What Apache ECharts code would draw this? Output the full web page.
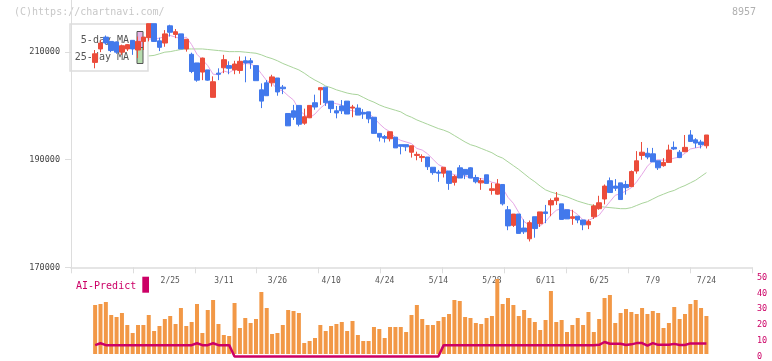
<!DOCTYPE html>
<html>
<head>
<meta charset="utf-8">
<script src="https://cdn.jsdelivr.net/npm/echarts@6.0.0/dist/echarts.min.js"></script>
<style>
  html, body { margin: 0; padding: 0; background: #fff; }
  #main { width: 772px; height: 361px; }
</style>
</head>
<body>
<div id="main"></div>
<script>
// 日足データ (8957)
const openP = [208100,210600,212800,212000,211900,210000,210600,212200,210400,212000,
  212700,215300,212100,211700,214900,213300,213400,210600,209600,208000,
  206300,206700,201600,206100,207100,207500,206700,206600,208400,208400,
  207500,203000,204300,204300,205200,203500,198600,199100,200100,196800,
  197800,200600,203000,203500,200900,199100,200000,200900,199600,199600,
  198800,198900,197900,194900,194300,193900,194200,192800,192800,191400,
  190800,190400,190500,188600,187700,187500,187900,185800,188500,188200,
  188500,186700,185700,187200,184300,183600,185400,180700,177800,179900,
  177300,175300,179400,178100,180300,181600,182400,181800,180700,179100,
  179500,178800,177900,179400,180900,182700,186100,185100,185700,185400,
  185000,187900,190800,191200,191100,189800,188900,189500,192300,191400,
  191500,194600,193700,193300,192600];
const closeP = [209700,211700,211700,210300,210000,211200,211400,210600,212000,212800,
  215300,212000,210900,213400,213700,213800,210600,212400,206400,204800,
  208900,204800,204500,205900,208600,207000,207800,208300,208000,208000,
  204700,200900,201900,205400,202600,203200,196300,197900,196600,198000,
  200100,199800,203400,200600,199500,198700,199100,198500,199800,198300,
  198500,197600,194900,194200,194000,195200,192200,192500,192400,192600,
  191000,190600,188700,187600,187500,188600,185600,186900,186600,187200,
  186600,185900,186100,185600,184600,185500,181800,177700,179900,176300,
  176600,178300,177200,180300,180000,182400,182900,178900,179000,179400,
  178800,177900,178500,181400,182000,185100,183900,184700,182600,184800,
  187800,189800,191400,190500,189600,188500,189500,191800,192000,190400,
  192300,193400,193100,192800,194600];
const lowP = [207000,210000,211400,210000,209700,209500,210200,209500,208900,210400,
  212000,211900,210200,211000,212900,212600,210600,210100,206100,204500,
  204800,204700,201600,204800,206100,205900,205900,206000,204400,206900,
  204700,199600,201900,203600,201900,202200,196300,197400,196200,196500,
  197800,199300,200200,200000,198700,197700,198500,198500,197900,198300,
  197600,196800,194900,193400,193200,193400,192200,191000,191600,190400,
  189900,189600,188100,187200,185900,186700,184400,185200,186600,186400,
  186600,185600,184400,185600,183500,183500,181500,176900,177500,176300,
  176200,174800,175500,177500,178200,179500,181600,178900,179000,177900,
  178200,176900,177100,179000,180700,181700,183900,184200,182600,183500,
  185000,187400,190000,190100,189600,188100,188700,189500,191800,190300,
  191400,193400,192200,192100,192100];
const highP = [210400,212300,213100,212000,212000,211400,211500,212200,212900,212800,
  215300,215300,212700,214100,215100,214300,213400,212400,209900,208000,
  209000,206700,205500,207000,209500,208300,208400,209200,209200,208900,
  207500,204200,204800,205800,205200,203900,198600,200200,200100,199500,
  200100,202100,203400,203500,200900,200000,201100,200900,200200,200300,
  199400,198900,197900,194900,194600,195200,194200,192800,192800,192600,
  191500,191000,190500,188600,188100,188600,187900,187200,189000,188200,
  188600,187200,186600,187200,185700,186400,185400,181400,179900,179900,
  178900,178700,179400,180300,181600,182800,184000,181800,180700,180700,
  179500,178800,178900,181700,183300,185400,186700,186400,185700,186100,
  188000,191600,193300,192200,192200,189800,190300,192800,193400,191800,
  194600,195500,194000,193700,194600];

// 移動平均線
const ma5 = [null,null,null,null,null,null,null,null,null,null,
  212400,212500,212600,212900,213100,212800,212500,212800,211400,209600,
  208600,207500,205900,205800,206500,206200,206800,207500,207900,207800,
  207300,206000,204700,204200,203100,202800,201900,201100,199300,198400,
  197800,198500,199600,200400,200700,200400,200200,199300,199100,198900,
  198800,198600,197800,196700,195800,195200,194100,193600,193300,193000,
  192100,191800,191100,190100,189100,188600,187600,187200,187000,187000,
  186600,186600,186500,186300,185800,185600,184700,183000,181900,180200,
  178500,177800,177700,177700,178500,179700,180600,180900,180700,180500,
  179800,178800,178700,179200,179700,181000,182200,183400,183700,184200,
  184800,185900,187300,188800,189800,190000,189900,190000,190300,190500,
  191200,192000,192200,192400,193200];
const ma25 = [null,null,null,null,null,null,null,null,null,null,
  209300,209400,209700,210000,210100,210300,210500,210600,210600,210600,
  210600,210500,210400,210300,210200,210100,210100,210100,210000,209900,
  209800,209500,209100,208800,208400,207900,207500,207100,206700,206100,
  205400,204800,204300,203700,203400,203000,202700,202400,202200,202100,
  201600,201100,200700,200200,199800,199500,199200,198900,198300,197900,
  197400,197000,196600,196200,195800,195500,195100,194500,193900,193300,
  192800,192500,192100,191700,191300,190700,190300,189600,188900,188200,
  187400,186600,185900,185100,184400,184000,183700,183400,183100,182700,
  182300,182000,181700,181500,181300,181200,181100,181000,180900,180900,
  181100,181500,181900,182200,182700,183200,183600,184000,184300,184800,
  185200,185700,186200,186900,187600];

// 出来高 (相対値)
const volume = [49,50,52,39,37,41,29,21,29,29,
  39,23,28,35,38,30,46,28,32,50,
  21,44,54,30,19,18,51,26,36,31,
  35,62,46,20,21,29,44,43,41,11,
  13,16,29,23,28,30,32,23,33,19,
  13,13,27,25,16,27,27,27,22,39,
  49,35,29,29,33,37,40,54,53,37,
  36,31,30,36,38,75,50,56,49,38,
  44,36,32,24,34,63,32,34,22,29,
  36,29,42,22,35,56,59,31,41,45,
  42,40,46,40,43,41,26,31,47,35,
  40,50,54,46,38];

// AI-Predict
const aiPredict = [7.2,8.4,7.2,7.2,7.2,7.2,7.2,7.2,7.2,7.2,
  7.2,7.2,7.2,7.2,7.2,7.2,7.2,7.2,7.2,8.4,
  7.2,7.2,8.4,7.2,7.2,7.2,0,0,0,0,
  0,0,0,0,0,0,0,0,0,0,
  0,0,0,0,0,0,0,0,0,0,
  0,0,0,0,0,0,0,0,0,0,
  0,0,0,0,0,7.2,7.2,7.2,7.2,7.2,
  7.2,7.2,7.2,7.2,7.2,7.2,7.2,7.2,7.2,7.2,
  7.2,7.2,7.2,7.2,7.2,7.2,7.2,7.2,7.2,7.2,
  7.2,7.2,7.2,7.2,7.4,9.2,8.1,8.1,8.1,7.3,
  7.7,8.5,8.5,6.9,8.5,7.4,7.4,7.4,8.0,7.3,
  7.3,8.3,8.3,8.3,8.3];

// 日付ラベル
const tickLabels = ['2/25','3/11','3/26','4/10','4/24','5/14','5/28','6/11','6/25','7/9','7/24'];
const tickIdx = [14,24,34,44,54,64,74,84,94,104,114];
const yTicks = [170000, 190000, 210000];

const PAD_L = 4, PAD_R = 8;
const N = openP.length;
const cats = [];
for (let i = 0; i < PAD_L + N + PAD_R; i++) cats.push(String(i));
const labelAt = {};
tickIdx.forEach((k, i) => { labelAt[k + PAD_L] = tickLabels[i]; });

const pad = (arr, fill) => {
  const out = [];
  for (let i = 0; i < PAD_L; i++) out.push(fill);
  arr.forEach(v => out.push(v));
  for (let i = 0; i < PAD_R; i++) out.push(fill);
  return out;
};

const kData = pad(openP.map((o, i) => [o, closeP[i], lowP[i], highP[i]]), '-');

const MONO = 'DejaVu Sans Mono';
const UP = '#eb4c3b', DOWN = '#4279ec', CRIMSON = '#cc0066';

const chart = echarts.init(document.getElementById('main'));

const option = {
  animation: false,
  backgroundColor: '#fff',
  grid: [
    { left: 71, right: 20, top: 0, height: 267.3 },
    { left: 71, right: 20, top: 274, height: 80 },
    { left: 71, right: 20, top: 277.7, height: 80 }
  ],
  xAxis: [
    {
      type: 'category', gridIndex: 0, data: cats, boundaryGap: true,
      axisLine: { show: true, lineStyle: { color: '#ddd', width: 1.5 } },
      axisTick: { show: false },
      axisLabel: {
        interval: (idx) => labelAt[idx] !== undefined,
        formatter: (v, idx) => labelAt[idx] || '',
        fontFamily: MONO, fontSize: 8, color: '#555', margin: 10
      },
      splitLine: { show: false }
    },
    {
      // 目盛り線
      type: 'value', gridIndex: 0, position: 'bottom', min: 0, max: 11, interval: 1,
      axisLine: { show: false },
      axisTick: { show: true, length: 6, lineStyle: { color: '#ddd' } },
      axisLabel: { show: false },
      splitLine: { show: false }
    },
    { type: 'category', gridIndex: 1, data: cats, show: false },
    { type: 'category', gridIndex: 2, data: cats, show: false }
  ],
  yAxis: [
    {
      type: 'value', gridIndex: 0, min: 170000, max: 219700,
      axisLine: { show: true, lineStyle: { color: '#ddd' } },
      axisTick: { show: true, length: 6, customValues: yTicks, lineStyle: { color: '#ddd' } },
      axisLabel: {
        customValues: yTicks, formatter: (v) => String(v),
        fontFamily: MONO, fontSize: 8.5, color: '#444', margin: 11
      },
      splitLine: { show: false }
    },
    { type: 'value', gridIndex: 1, min: 0, max: 80, show: false },
    {
      type: 'value', gridIndex: 2, min: 0, max: 50, interval: 10, position: 'right',
      axisLine: { show: false },
      axisTick: { show: false },
      axisLabel: { fontFamily: MONO, fontSize: 8.5, color: CRIMSON, margin: 5 },
      splitLine: { show: false }
    }
  ],
  graphic: [
    { type: 'text', z: 0, left: 14, top: 7,
      style: { text: '(C)https://chartnavi.com/', font: '10px ' + MONO, fill: '#c8c8c8' } },
    { type: 'text', z: 0, right: 16, top: 7,
      style: { text: '8957', font: '10px ' + MONO, fill: '#b0b0b0' } },
    { type: 'rect', z: 0, shape: { x: 70, y: 24, width: 78, height: 47 },
      style: { fill: '#fff', stroke: '#ddd', lineWidth: 1.5 } },
    { type: 'text', z: 0, x: 129, y: 40,
      style: { text: '5-day MA', font: '10px ' + MONO, fill: '#555', align: 'right', verticalAlign: 'middle' } },
    { type: 'text', z: 0, x: 129, y: 57,
      style: { text: '25-day MA', font: '10px ' + MONO, fill: '#555', align: 'right', verticalAlign: 'middle' } },
    { type: 'rect', z: 0, shape: { x: 137, y: 31.5, width: 6, height: 16 },
      style: { fill: '#e8b2e6', stroke: '#555', lineWidth: 1 } },
    { type: 'rect', z: 0, shape: { x: 137, y: 47.5, width: 6, height: 16 },
      style: { fill: '#b6dcae', stroke: '#555', lineWidth: 1 } },
    { type: 'text', z: 0, x: 76, y: 286,
      style: { text: 'AI-Predict', font: '10px ' + MONO, fill: CRIMSON, verticalAlign: 'middle' } },
    { type: 'rect', z: 0, shape: { x: 142.3, y: 276.7, width: 6.7, height: 16 },
      style: { fill: CRIMSON } }
  ],
  series: [
    {
      name: '25-day MA', type: 'line', xAxisIndex: 0, yAxisIndex: 0,
      data: pad(ma25, null), symbol: 'none', z: 3,
      lineStyle: { color: '#a9d49b', width: 1 }
    },
    {
      name: '5-day MA', type: 'line', xAxisIndex: 0, yAxisIndex: 0,
      data: pad(ma5, null), symbol: 'none', z: 3,
      lineStyle: { color: '#e6a6e6', width: 1 }
    },
    {
      name: 'price', type: 'candlestick', xAxisIndex: 0, yAxisIndex: 0,
      data: kData, barWidth: 5, z: 5,
      itemStyle: { color: UP, color0: DOWN, borderColor: UP, borderColor0: DOWN, borderWidth: 1 }
    },
    {
      name: 'volume', type: 'bar', xAxisIndex: 2, yAxisIndex: 1,
      data: pad(volume, '-'), barWidth: 4, z: 2,
      itemStyle: { color: '#f29846' }
    },
    {
      name: 'AI-Predict', type: 'line', xAxisIndex: 3, yAxisIndex: 2,
      data: pad(aiPredict, null), symbol: 'none', clip: false, z: 4,
      lineStyle: { color: CRIMSON, width: 2.5 }
    }
  ]
};

chart.setOption(option);
</script>
</body>
</html>
